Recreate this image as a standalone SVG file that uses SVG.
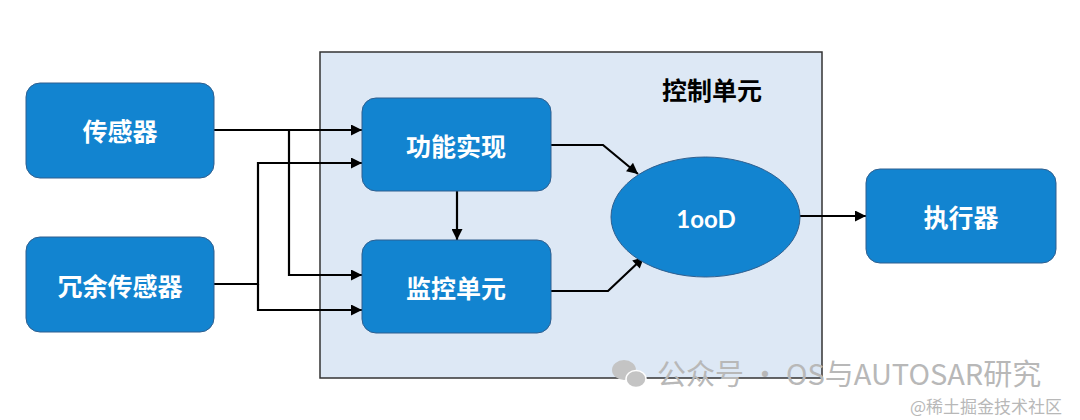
<svg xmlns="http://www.w3.org/2000/svg" width="1080" height="420" viewBox="0 0 1080 420">
<style>
.box{fill:#1284d0;stroke:#2f5f8f;stroke-width:1}
.lbl{font-family:"Noto Sans CJK SC","Noto Sans",sans-serif;font-weight:bold;font-size:25px;fill:#ffffff;text-anchor:middle;dominant-baseline:central}
.ln{fill:none;stroke:#000;stroke-width:2.2}
.wm{font-family:"Noto Sans CJK SC","Noto Sans",sans-serif;fill:#b8b8b8}
</style>
<defs>
<marker id="ah" viewBox="0 0 10 10" refX="10" refY="5" markerWidth="6" markerHeight="5" markerUnits="strokeWidth" orient="auto">
<path d="M0,0 L10,5 L0,10 z" fill="#000"/>
</marker>
</defs>
<rect width="1080" height="420" fill="#fff"/>
<g id="control-unit">
<rect x="320" y="52" width="502" height="326" fill="#dde8f5" stroke="#333" stroke-width="1.5"/>
<text x="712" y="89" font-family="Noto Sans CJK SC,Noto Sans,sans-serif" font-weight="bold" font-size="25" fill="#000" text-anchor="middle" dominant-baseline="central">控制单元</text>
</g>
<g id="connectors">
<path class="ln" d="M214,130 H362" marker-end="url(#ah)"/>
<path class="ln" d="M289,130 V275 H362" marker-end="url(#ah)"/>
<path class="ln" d="M214,284 H258 V163 H362" marker-end="url(#ah)"/>
<path class="ln" d="M258,284 V310 H362" marker-end="url(#ah)"/>
<path class="ln" d="M457,191 V240" marker-end="url(#ah)"/>
<path class="ln" d="M551,145 H603 L638,174" marker-end="url(#ah)"/>
<path class="ln" d="M551,291 H608 L644,257" marker-end="url(#ah)"/>
<path class="ln" d="M800,216 H866" marker-end="url(#ah)"/>
</g>
<g id="sensor">
<rect class="box" x="26" y="83" width="188" height="95" rx="14"/>
<text class="lbl" x="120" y="130">传感器</text>
</g>
<g id="redundant-sensor">
<rect class="box" x="26" y="237" width="188" height="95" rx="14"/>
<text class="lbl" x="120" y="285">冗余传感器</text>
</g>
<g id="function">
<rect class="box" x="362" y="98" width="189" height="93" rx="14"/>
<text class="lbl" x="456" y="145">功能实现</text>
</g>
<g id="monitor">
<rect class="box" x="362" y="240" width="189" height="93" rx="14"/>
<text class="lbl" x="456" y="287">监控单元</text>
</g>
<g id="ood">
<ellipse class="box" cx="705.5" cy="217" rx="94.5" ry="60"/>
<text x="706" y="218" font-family="Lato,Open Sans,sans-serif" font-weight="bold" font-size="24" fill="#fff" text-anchor="middle" dominant-baseline="central">1ooD</text>
</g>
<g id="actuator">
<rect class="box" x="866" y="169" width="190" height="94" rx="14"/>
<text class="lbl" x="961" y="216">执行器</text>
</g>
<g id="watermark">
<ellipse cx="624" cy="370" rx="12" ry="10" fill="#c4c4c4"/>
<ellipse cx="636" cy="379" rx="10" ry="8.5" fill="#c4c4c4" stroke="#fff" stroke-width="1.5"/>
<text class="wm" x="657" y="385" font-size="29">公众号 · OS与AUTOSAR研究</text>
<text class="wm" x="910" y="413" font-size="17" fill="#a8a8a8">@稀土掘金技术社区</text>
</g>
</svg>
